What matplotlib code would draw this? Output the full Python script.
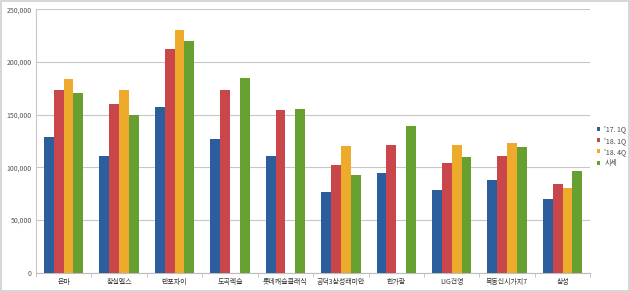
import numpy as np
import matplotlib
matplotlib.use("Agg")
import matplotlib.pyplot as plt
from matplotlib.patches import Rectangle

plt.rcParams['font.family'] = ['Noto Sans CJK KR', 'DejaVu Sans']

# 단지명
categories = ['은마', '잠실엘스', '반포자이', '도곡렉슬', '롯데캐슬클래식',
              '공덕3삼성래미안', '한가람', 'LIG건영', '목동신시가지7', '삼성']
series_names = ["'17. 1Q", "'18. 1Q", "'18. 4Q", '시세']

q17_1 = [129000, 111000, 157000, 127000, 111000, 77000, 95000, 78500, 88000, 70000]
q18_1 = [173000, 160000, 212000, 173500, 154000, 102500, 121000, 104000, 111000, 84000]
q18_4 = [184000, 173000, 230000, np.nan, np.nan, 120000, np.nan, 121500, 123000, 80000]
price = [170500, 149500, 220000, 185000, 155000, 92500, 139000, 110000, 119000, 96500]

colors = ['#2c5d9c', '#c9474a', '#eeab2b', '#67a031']

fig = plt.figure(figsize=(6.3, 2.92), dpi=100)
ax = fig.add_axes([0.057, 0.066, 0.880, 0.902])

x = np.arange(len(categories))
w = 0.178
for i, vals in enumerate([q17_1, q18_1, q18_4, price]):
    ax.bar(x + (i - 1.5) * w, vals, width=w, color=colors[i],
           label=series_names[i], zorder=3)

ax.set_xlim(-0.5, len(categories) - 0.5)
ax.set_ylim(0, 250000)
ax.set_yticks(np.arange(0, 250001, 50000))
ax.set_yticklabels(['{:,}'.format(v) for v in range(0, 250001, 50000)])
ax.yaxis.grid(True, color='#c8c8c8', linewidth=0.8, zorder=0)

ax.set_xticks(x)
ax.set_xticklabels(categories)
ax.set_xticks(np.arange(-0.5, len(categories), 1), minor=True)
ax.tick_params(axis='x', which='major', length=0, labelsize=5,
               labelcolor='#333333', pad=4)
ax.tick_params(axis='x', which='minor', length=3, color='#bdbdbd', width=0.6)
ax.tick_params(axis='y', length=0, labelsize=5, labelcolor='#555555', pad=3)

for s in ['top', 'right']:
    ax.spines[s].set_visible(False)
ax.spines['left'].set_color('#c8c8c8')
ax.spines['bottom'].set_color('#bdbdbd')
ax.spines['left'].set_linewidth(0.8)
ax.spines['bottom'].set_linewidth(0.8)

ax.legend(loc='center left', bbox_to_anchor=(1.0, 0.48), frameon=False,
          fontsize=5, handlelength=0.5, handleheight=0.5, handletextpad=0.6,
          labelspacing=0.45, labelcolor='#444444')

fig.patches.append(Rectangle((0.002, 0.003), 0.996, 0.994, transform=fig.transFigure,
                             fill=False, edgecolor='#cfcfcf', linewidth=1.2))

fig.savefig('out.png', dpi=100)
